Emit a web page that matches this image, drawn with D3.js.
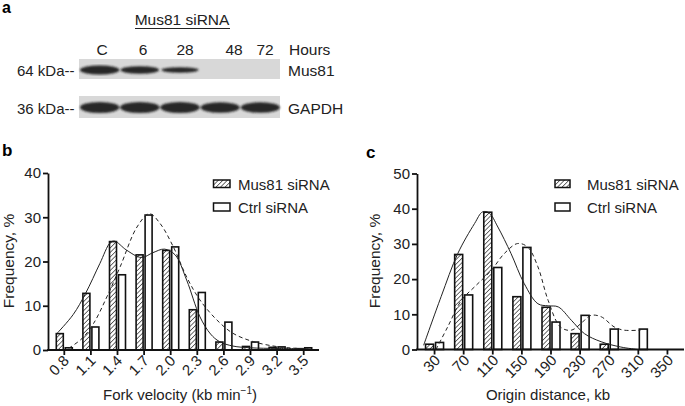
<!DOCTYPE html>
<html>
<head>
<meta charset="utf-8">
<script src="https://cdn.jsdelivr.net/npm/d3@7"></script>
<style>
  body { margin: 0; background: #fff; }
  svg { font-family: "Liberation Sans", Arial, sans-serif; }
</style>
</head>
<body>
<div id="chart"></div>
<script>
// Panel a: western blot
const lanes = ['C', '6', '28', '48', '72'];
const mus81Band = [1.0, 0.85, 0.6, 0, 0];     // relative band strength
const gapdhBand = [1.0, 1.0, 1.0, 0.95, 0.95];

// Panel b: fork velocity
const velocity = ['0.8', '1.1', '1.4', '1.7', '2.0', '2.3', '2.6', '2.9', '3.2', '3.5'];
const velMus81 = [3.7, 12.8, 24.5, 21.5, 22.5, 9.1, 1.8, 0.8, 0.6, 0.3];
const velCtrl  = [0.5, 5.2, 17.0, 30.5, 23.3, 13.0, 6.3, 1.8, 0.7, 0.5];
// fitted curves: [x, y]
const velMus81Fit = [[0.72, 3.8], [0.9, 8], [1.04, 12.8], [1.2, 19.5], [1.32, 24.3], [1.37, 24.6], [1.5, 22.6],
  [1.67, 20.9], [1.8, 22], [1.93, 22.8], [2.05, 21.5], [2.18, 15.8], [2.33, 7.5], [2.45, 3.6], [2.55, 1.9],
  [2.7, 0.9], [2.9, 0.5], [3.2, 0.35], [3.55, 0.3]];
const velCtrlFit = [[0.85, 0.4], [1.0, 2.6], [1.13, 6], [1.28, 12], [1.43, 18.8], [1.62, 27.8], [1.76, 30.8],
  [1.88, 28.6], [2.03, 23.3], [2.18, 16.5], [2.33, 11.3], [2.52, 6.8], [2.7, 3.8], [2.93, 1.9], [3.19, 0.8],
  [3.4, 0.4], [3.6, 0.2]];

// Panel c: origin distance
const distance = ['30', '70', '110', '150', '190', '230', '270', '310', '350'];
const distMus81 = [1.5, 27.0, 39.0, 15.0, 12.0, 4.5, 1.5, 0, 0];
const distCtrl  = [2.0, 15.5, 23.3, 29.0, 7.8, 9.7, 5.8, 5.8, 0];
const distMus81Fit = [[15, 1.2], [39, 15], [62, 27.3], [85, 35.8], [96, 39.1], [105, 38.8], [117, 34.8],
  [135, 27.3], [153, 18.8], [172, 13], [186, 12.4], [200, 12.1], [218, 8.3], [236, 4.5], [259, 2.2],
  [286, 0.7], [309, 0]];
const distCtrlFit = [[32, 0], [48, 6.4], [67, 14], [85, 17.8], [108, 22.5], [126, 27.3], [144, 30.1],
  [158, 29.1], [172, 23.5], [186, 14], [203, 6.4], [218, 5.5], [236, 8.3], [245, 9.7], [259, 9.3],
  [277, 6.4], [290, 5.5], [313, 5.5]];

const W = 685, H = 406;
const svg = d3.select('#chart').append('svg').attr('width', W).attr('height', H);

const defs = svg.append('defs');
const pat = defs.append('pattern')
  .attr('id', 'hatch')
  .attr('patternUnits', 'userSpaceOnUse')
  .attr('width', 3.2).attr('height', 3.2)
  .attr('patternTransform', 'rotate(45)');
pat.append('rect').attr('width', 3.2).attr('height', 3.2).attr('fill', '#fff');
pat.append('line').attr('x1', 0).attr('y1', 0).attr('x2', 0).attr('y2', 3.2)
  .attr('stroke', '#333').attr('stroke-width', 1.4);

const blur = defs.append('filter').attr('id', 'blur');
blur.append('feGaussianBlur').attr('stdDeviation', 1.1);

// ---------- panel a ----------
svg.append('text').attr('x', 2).attr('y', 13).attr('font-weight', 'bold').attr('font-size', 16).text('a');

const laneX = d3.scaleBand().domain(lanes).range([80, 280]).paddingInner(0.02);

svg.append('text').attr('x', 182).attr('y', 25).attr('text-anchor', 'middle')
  .attr('font-size', 15.5).attr('fill', '#222').text('Mus81 siRNA');
svg.append('line').attr('x1', 135).attr('x2', 230).attr('y1', 28.5).attr('y2', 28.5)
  .attr('stroke', '#222').attr('stroke-width', 1);

const laneLabelX = [102, 143, 185, 234, 265];
svg.selectAll('text.lane').data(lanes).enter().append('text')
  .attr('class', 'lane')
  .attr('x', (d, i) => laneLabelX[i])
  .attr('y', 55).attr('text-anchor', 'middle').attr('font-size', 15.5).attr('fill', '#222')
  .text(d => d);
svg.append('text').attr('x', 289).attr('y', 55).attr('font-size', 15.5).attr('fill', '#222').text('Hours');

function blot(y0, h, bandY, bandH, vals, label, kda) {
  svg.append('rect').attr('x', 79).attr('y', y0).attr('width', 201).attr('height', h)
    .attr('fill', '#d8d8d8');
  svg.append('g').attr('filter', 'url(#blur)')
    .selectAll('ellipse').data(vals).enter().append('ellipse')
    .attr('cx', (d, i) => laneX(lanes[i]) + laneX.bandwidth() / 2)
    .attr('cy', bandY)
    .attr('rx', d => laneX.bandwidth() / 2 * (0.85 + 0.15 * d))
    .attr('ry', d => bandH / 2 * d)
    .attr('fill', '#1e1e1e')
    .attr('opacity', d => d > 0 ? 0.95 : 0);
  svg.append('text').attr('x', 17).attr('y', bandY + 6).attr('font-size', 15).attr('fill', '#222').text(kda);
  svg.append('text').attr('x', 288).attr('y', bandY + 6).attr('font-size', 15.5).attr('fill', '#222').text(label);
}
blot(59, 20, 70, 9, mus81Band, 'Mus81', '64 kDa--');
blot(96, 22, 107.5, 11, gapdhBand, 'GAPDH', '36 kDa--');

// ---------- histogram panels ----------
function histPanel(o) {
  const g = svg.append('g');
  const x = d3.scaleBand().domain(o.cats).range([o.x0, o.x1]);
  const y = d3.scaleLinear().domain([0, o.ymax]).range([o.yb, o.yt]);
  const xv = d3.scaleLinear().domain(o.vdom)
    .range([x(o.cats[0]) + x.bandwidth() / 2, x(o.cats[o.cats.length - 1]) + x.bandwidth() / 2]);
  const bw = o.bw, gap = 1;
  const cx = c => x(c) + x.bandwidth() / 2;

  // bars
  g.selectAll('rect.m').data(o.cats).enter().append('rect')
    .attr('x', d => cx(d) - gap - bw).attr('width', bw)
    .attr('y', (d, i) => y(o.m[i])).attr('height', (d, i) => y(0) - y(o.m[i]))
    .attr('fill', 'url(#hatch)').attr('stroke', '#111').attr('stroke-width', 1.6)
    .attr('opacity', (d, i) => o.m[i] > 0 ? 1 : 0);
  g.selectAll('rect.c').data(o.cats).enter().append('rect')
    .attr('x', d => cx(d) + gap).attr('width', bw)
    .attr('y', (d, i) => y(o.c[i])).attr('height', (d, i) => y(0) - y(o.c[i]))
    .attr('fill', '#fff').attr('stroke', '#111').attr('stroke-width', 1.6)
    .attr('opacity', (d, i) => o.c[i] > 0 ? 1 : 0);

  const line = d3.line().x(d => xv(d[0])).y(d => y(d[1])).curve(d3.curveCatmullRom.alpha(0.5));
  g.append('path').attr('d', line(o.mFit)).attr('fill', 'none').attr('stroke', '#222').attr('stroke-width', 1);
  g.append('path').attr('d', line(o.cFit)).attr('fill', 'none').attr('stroke', '#222').attr('stroke-width', 1)
    .attr('stroke-dasharray', '4,3');

  // axes
  const ya = g.append('g').attr('transform', `translate(${o.x0 - 3},0)`)
    .call(d3.axisLeft(y).tickValues(d3.range(0, o.ymax + 1, 10)).tickSize(5).tickPadding(2).tickSizeOuter(0));
  ya.select('.domain').attr('stroke-width', 1.8).attr('stroke', '#111');
  ya.selectAll('.tick line').attr('stroke-width', 1.8).attr('stroke', '#111');
  ya.selectAll('.tick text').attr('font-size', 15).attr('fill', '#222').attr('font-family', null);

  const xa = g.append('g').attr('transform', `translate(0,${o.yb})`)
    .call(d3.axisBottom(x).tickSize(5).tickSizeOuter(0).tickFormat(''));
  xa.select('.domain').remove();
  xa.selectAll('.tick line').attr('stroke-width', 1.8).attr('stroke', '#111');
  g.append('line').attr('x1', o.x0 - 3.9).attr('x2', o.xEnd).attr('y1', o.yb).attr('y2', o.yb)
    .attr('stroke', '#111').attr('stroke-width', 1.8);

  g.selectAll('text.xl').data(o.cats).enter().append('text')
    .attr('transform', d => `translate(${cx(d) + o.lblDx},${o.yb + 8}) rotate(-45)`)
    .attr('text-anchor', 'end').attr('dy', '0.35em')
    .attr('font-size', 15).attr('fill', '#222').text(d => d);

  // titles
  g.append('text').attr('transform', `translate(${o.ytX},261) rotate(-90)`)
    .attr('text-anchor', 'middle').attr('font-size', 15.5).attr('fill', '#222').text('Frequency, %');
  const xt = g.append('text').attr('x', o.xtX).attr('y', 400).attr('text-anchor', 'middle')
    .attr('font-size', 15).attr('fill', '#222');
  if (o.sup) {
    xt.text(o.xTitle);
    xt.append('tspan').attr('dy', -6).attr('font-size', 10).text(o.sup);
    xt.append('tspan').attr('dy', 6).text(')');
  } else xt.text(o.xTitle);

  g.append('text').attr('x', o.lx).attr('y', o.ly).attr('font-weight', 'bold').attr('font-size', 17).text(o.letter);

  // legend
  const lg = g.append('g').attr('transform', `translate(${o.legX},${o.legY})`);
  lg.append('rect').attr('x', 0).attr('y', 0).attr('width', o.legW).attr('height', 7.5)
    .attr('fill', 'url(#hatch)').attr('stroke', '#111').attr('stroke-width', 1.5);
  lg.append('rect').attr('x', 0).attr('y', 23).attr('width', o.legW).attr('height', 8)
    .attr('fill', '#fff').attr('stroke', '#111').attr('stroke-width', 1.5);
  lg.append('text').attr('x', o.legTx).attr('y', 10).attr('font-size', 15).attr('fill', '#222').text('Mus81 siRNA');
  lg.append('text').attr('x', o.legTx).attr('y', 32.5).attr('font-size', 15).attr('fill', '#222').text('Ctrl siRNA');
}

histPanel({
  cats: velocity, m: velMus81, c: velCtrl, mFit: velMus81Fit, cFit: velCtrlFit,
  vdom: [0.8, 3.5], x0: 51, x1: 317, xEnd: 319, yb: 350, yt: 173, ymax: 40, bw: 7,
  ytX: 14, xtX: 180, xTitle: 'Fork velocity (kb min', sup: '\u22121', lblDx: 2,
  letter: 'b', lx: 2, ly: 156, legX: 213.5, legY: 180, legW: 16.5, legTx: 24.5
});
histPanel({
  cats: distance, m: distMus81, c: distCtrl, mFit: distMus81Fit, cFit: distCtrlFit,
  vdom: [30, 350], x0: 420, x1: 682, xEnd: 684, yb: 349.5, yt: 173.5, ymax: 50, bw: 8,
  ytX: 380, xtX: 548, xTitle: 'Origin distance, kb', lblDx: 3,
  letter: 'c', lx: 366, ly: 158, legX: 555, legY: 180, legW: 15, legTx: 32
});
</script>
</body>
</html>
